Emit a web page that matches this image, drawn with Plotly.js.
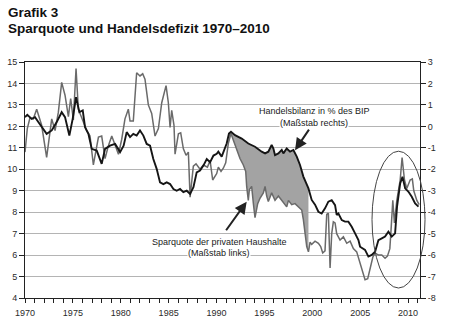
<!DOCTYPE html>
<html>
<head>
<meta charset="utf-8">
<script src="https://cdn.plot.ly/plotly-3.0.1.min.js"></script>
<style>
html,body{margin:0;padding:0;background:#fff;}
#chart{width:462px;height:335px;}
</style>
</head>
<body>
<div id="chart"></div>
<script>
// Sparquote der privaten Haushalte (left scale, %)
const savYears = [1970.0,1970.24,1970.52,1970.87,1971.22,1971.74,1972.26,1972.79,1973.14,1973.48,1973.83,1974.18,1974.53,1974.77,1975.05,1975.33,1975.57,1976.1,1976.45,1976.79,1977.14,1977.67,1978.01,1978.36,1978.71,1979.06,1979.41,1979.76,1980.1,1980.44,1980.79,1980.97,1981.31,1981.66,1982.01,1982.29,1982.53,1982.88,1983.23,1983.58,1983.93,1984.28,1984.73,1984.97,1985.15,1985.32,1985.56,1985.67,1986.02,1986.26,1986.54,1986.82,1987.06,1987.24,1987.58,1987.86,1988.28,1988.63,1989.05,1989.33,1989.6,1990.02,1990.19,1990.47,1990.71,1990.96,1991.23,1991.51,1991.76,1992.1,1992.45,1992.8,1993.05,1993.15,1993.32,1993.43,1993.67,1993.85,1994.02,1994.3,1994.54,1994.89,1995.07,1995.24,1995.41,1995.76,1996.11,1996.46,1996.81,1997.16,1997.33,1997.51,1997.85,1998.2,1998.55,1998.9,1999.07,1999.25,1999.42,1999.6,1999.77,1999.94,2000.29,2000.64,2000.88,2001.09,2001.33,2001.51,2001.68,2001.86,2002.03,2002.2,2002.38,2002.55,2002.9,2003.25,2003.6,2003.95,2004.29,2004.64,2004.99,2005.27,2005.51,2005.79,2006.04,2006.32,2006.56,2006.91,2007.26,2007.6,2007.85,2008.1,2008.23,2008.41,2008.58,2008.83,2009.18,2009.38,2009.63,2009.87,2010.22,2010.45,2010.6,2010.92,2011.16];
const savVals = [10.8,11.9,12.4,12.35,12.8,12.05,10.55,12.35,11.8,12.65,14.05,13.45,12.45,13.3,12.3,14.7,12.8,12.2,11.8,11.55,10.2,11.5,11.55,10.5,11.1,11.55,11.1,10.7,11.4,12.35,12.8,12.25,12.25,14.5,14.35,14.45,14.2,13.0,12.6,11.55,11.9,13.1,13.9,13.1,11.95,12.75,12.05,10.7,11.65,11.7,10.95,10.65,10.8,8.7,10.15,10.25,10.0,10.2,10.1,10.4,9.5,9.8,10.1,9.9,10.05,10.3,11.2,11.67,11.35,10.9,10.5,10.2,9.9,9.2,8.55,9.05,9.2,8.4,7.75,8.4,8.65,8.9,9.2,8.75,8.5,8.9,8.55,8.75,8.55,8.4,8.25,8.55,8.35,8.4,8.25,8.1,7.65,7.0,6.4,6.15,6.6,6.5,6.65,6.55,6.4,6.1,6.2,7.9,7.95,5.4,7.0,7.55,7.5,7.0,6.7,6.85,6.55,6.65,6.3,6.15,5.6,5.1,4.85,4.9,5.4,5.9,6.1,6.0,6.0,5.85,5.95,6.3,7.2,8.55,7.5,8.55,9.5,10.55,9.5,9.1,9.5,9.55,9.0,8.55,8.35];

// Handelsbilanz in % des BIP (right scale)
const tbYears = [1970.0,1970.24,1970.7,1971.05,1971.39,1971.74,1972.26,1972.79,1973.31,1973.83,1974.18,1974.63,1974.98,1975.33,1975.68,1976.03,1976.27,1976.62,1976.97,1977.49,1978.01,1978.36,1978.88,1979.41,1979.93,1980.3,1980.62,1980.97,1981.31,1981.66,1982.01,1982.36,1982.71,1983.06,1983.4,1983.75,1984.1,1984.45,1984.8,1985.15,1985.5,1985.84,1986.19,1986.54,1986.89,1987.24,1987.59,1987.93,1988.28,1988.63,1988.98,1989.33,1989.68,1990.02,1990.19,1990.54,1990.82,1991.06,1991.3,1991.51,1991.93,1992.63,1993.32,1994.02,1994.72,1995.07,1995.41,1995.76,1995.94,1996.11,1996.46,1996.81,1996.98,1997.33,1997.68,1998.03,1998.38,1998.72,1999.07,1999.6,1999.94,2000.29,2000.64,2000.98,2001.33,2001.68,2002.03,2002.38,2002.55,2002.73,2003.08,2003.42,2003.77,2004.12,2004.47,2004.82,2004.99,2005.51,2005.86,2006.21,2006.56,2006.91,2007.26,2007.6,2007.95,2008.3,2008.65,2008.85,2009.18,2009.42,2009.7,2010.05,2010.39,2010.74,2011.09];
const tbVals = [0.43,0.54,0.35,0.43,0.2,-0.04,-0.35,-0.19,0.2,0.66,0.43,-0.43,0.35,1.36,0.66,0.74,-0.04,-0.35,-1.05,-1.13,-1.75,-1.05,-0.9,-0.82,-1.2,-0.9,-0.27,-0.5,-0.35,-0.43,-0.19,-0.43,-0.82,-0.9,-1.52,-1.98,-2.61,-2.69,-2.61,-2.69,-2.92,-3.0,-2.92,-3.07,-3.0,-3.15,-2.84,-2.14,-2.06,-1.83,-1.52,-1.67,-1.36,-1.28,-1.18,-1.41,-1.1,-0.8,-0.33,-0.25,-0.41,-0.57,-0.8,-0.95,-1.18,-1.26,-1.18,-0.87,-1.03,-1.34,-1.26,-1.1,-1.26,-1.03,-1.18,-1.1,-1.41,-1.8,-2.34,-2.89,-3.43,-3.65,-3.98,-4.06,-3.82,-3.51,-3.44,-3.67,-4.13,-4.06,-4.37,-4.44,-4.44,-4.68,-4.99,-5.3,-5.61,-5.76,-6.07,-5.99,-5.84,-5.3,-5.22,-5.14,-4.91,-5.14,-4.99,-3.75,-2.66,-2.35,-2.89,-3.05,-3.28,-3.59,-3.74];

// Axis ticks
const xTickVals = [1970,1975,1980,1985,1990,1995,2000,2005,2010];
const xTickText = ['1970','1975','1980','1985','1990','1995','2000','2005','2010'];
const yLeftTicks = [4,5,6,7,8,9,10,11,12,13,14,15];
const yRightTicks = [-8,-7,-6,-5,-4,-3,-2,-1,0,1,2,3];
const yRightText = ['-8','-7','-6','-5','-4','-3','-2','-1','0','1','2','3'];

// Shaded period between the two series
const shadeFrom = 1991.2, shadeTo = 1999.65;
const scaleOffset = 12; // left scale = right scale + 12

const fx = [], fy = [];
tbYears.forEach((x, i) => { if (x >= shadeFrom && x <= shadeTo) { fx.push(x); fy.push(tbVals[i] + scaleOffset); } });
for (let i = savYears.length - 1; i >= 0; i--) {
  const x = savYears[i];
  if (x >= shadeFrom && x <= shadeTo) { fx.push(x); fy.push(savVals[i]); }
}

const FONT = 'Liberation Sans, Arial, sans-serif';

const traces = [
  {x: fx, y: fy, type: 'scatter', mode: 'lines', fill: 'toself', fillcolor: '#a3a3a3',
   line: {width: 0, color: 'rgba(0,0,0,0)'}, hoverinfo: 'skip', xaxis: 'x', yaxis: 'y'},
  {x: savYears, y: savVals, type: 'scatter', mode: 'lines', name: 'Sparquote',
   line: {color: '#6a6a6a', width: 1.5}, xaxis: 'x', yaxis: 'y'},
  {x: tbYears, y: tbVals, type: 'scatter', mode: 'lines', name: 'Handelsbilanz',
   line: {color: '#151515', width: 1.9}, xaxis: 'x', yaxis: 'y2'}
];

const layout = {
  width: 462, height: 335,
  margin: {l: 25, r: 42, t: 62, b: 37, pad: 0},
  paper_bgcolor: '#fff', plot_bgcolor: '#fff',
  showlegend: false,
  font: {family: FONT, size: 9, color: '#2a2a2a'},
  xaxis: {
    range: [1970, 2011.25], tickmode: 'array', tickvals: xTickVals, ticktext: xTickText,
    showgrid: false, zeroline: false, showline: true, linecolor: '#222', linewidth: 1, mirror: true,
    ticks: 'outside', ticklen: 4, tickcolor: '#222', tickwidth: 1, ticklabelstandoff: 2,
    minor: {dtick: 1, tick0: 1970, ticks: 'outside', ticklen: 4, tickcolor: '#222', tickwidth: 1, showgrid: false},
    tickfont: {size: 9, color: '#2a2a2a'}
  },
  yaxis: {
    range: [4, 15], tickmode: 'array', tickvals: yLeftTicks,
    showgrid: true, gridcolor: '#b4b4b4', gridwidth: 1, zeroline: false,
    showline: true, linecolor: '#222', linewidth: 1,
    ticks: 'outside', ticklen: 5, tickcolor: '#222', tickfont: {size: 9, color: '#2a2a2a'}
  },
  yaxis2: {
    range: [-8, 3], overlaying: 'y', side: 'right', tickmode: 'array',
    tickvals: yRightTicks, ticktext: yRightText,
    showgrid: false, zeroline: false, showline: true, linecolor: '#222', linewidth: 1,
    ticks: 'outside', ticklen: 5, tickcolor: '#222', tickfont: {size: 9, color: '#2a2a2a'}
  },
  shapes: [
    {type: 'circle', xref: 'paper', yref: 'paper', x0: 0.8785, x1: 1.0127, y0: 0.0423, y1: 0.622,
     line: {color: '#444', width: 1}, layer: 'above'}
  ],
  annotations: [
    {xref: 'paper', yref: 'paper', x: -0.048, y: 1.208, xanchor: 'left', yanchor: 'middle', showarrow: false,
     text: '<b>Grafik 3</b>', font: {family: FONT, size: 13.5, color: '#111'}},
    {xref: 'paper', yref: 'paper', x: -0.048, y: 1.142, xanchor: 'left', yanchor: 'middle', showarrow: false,
     text: '<b>Sparquote und Handelsdefizit 1970–2010</b>', font: {family: FONT, size: 13.5, color: '#111'}},
    {xref: 'x', yref: 'y', x: 2000.18, y: 12.71, showarrow: false, text: 'Handelsbilanz in % des BIP',
     bgcolor: '#fff', borderpad: 0, font: {family: FONT, size: 9, color: '#1a1a1a'}},
    {xref: 'x', yref: 'y', x: 2000.18, y: 12.16, showarrow: false, text: '(Maßstab rechts)',
     bgcolor: '#fff', borderpad: 0, font: {family: FONT, size: 9, color: '#1a1a1a'}},
    {xref: 'x', yref: 'y', x: 1990.26, y: 6.63, showarrow: false, text: 'Sparquote der privaten Haushalte',
     bgcolor: '#fff', borderpad: 0, font: {family: FONT, size: 9, color: '#1a1a1a'}},
    {xref: 'x', yref: 'y', x: 1990.26, y: 6.12, showarrow: false, text: '(Maßstab links)',
     bgcolor: '#fff', borderpad: 0, font: {family: FONT, size: 9, color: '#1a1a1a'}},
    {xref: 'x', yref: 'y', x: 1998.2, y: 10.89, axref: 'x', ayref: 'y', ax: 1999.76, ay: 11.92,
     text: '', showarrow: true, arrowhead: 2, arrowsize: 1.2, arrowwidth: 2, arrowcolor: '#222', standoff: 0},
    {xref: 'x', yref: 'y', x: 1993.15, y: 8.49, axref: 'x', ayref: 'y', ax: 1990.89, ay: 7.09,
     text: '', showarrow: true, arrowhead: 2, arrowsize: 1.2, arrowwidth: 2, arrowcolor: '#222', standoff: 0}
  ]
};

Plotly.newPlot('chart', traces, layout, {displayModeBar: false, staticPlot: true});
</script>
</body>
</html>
